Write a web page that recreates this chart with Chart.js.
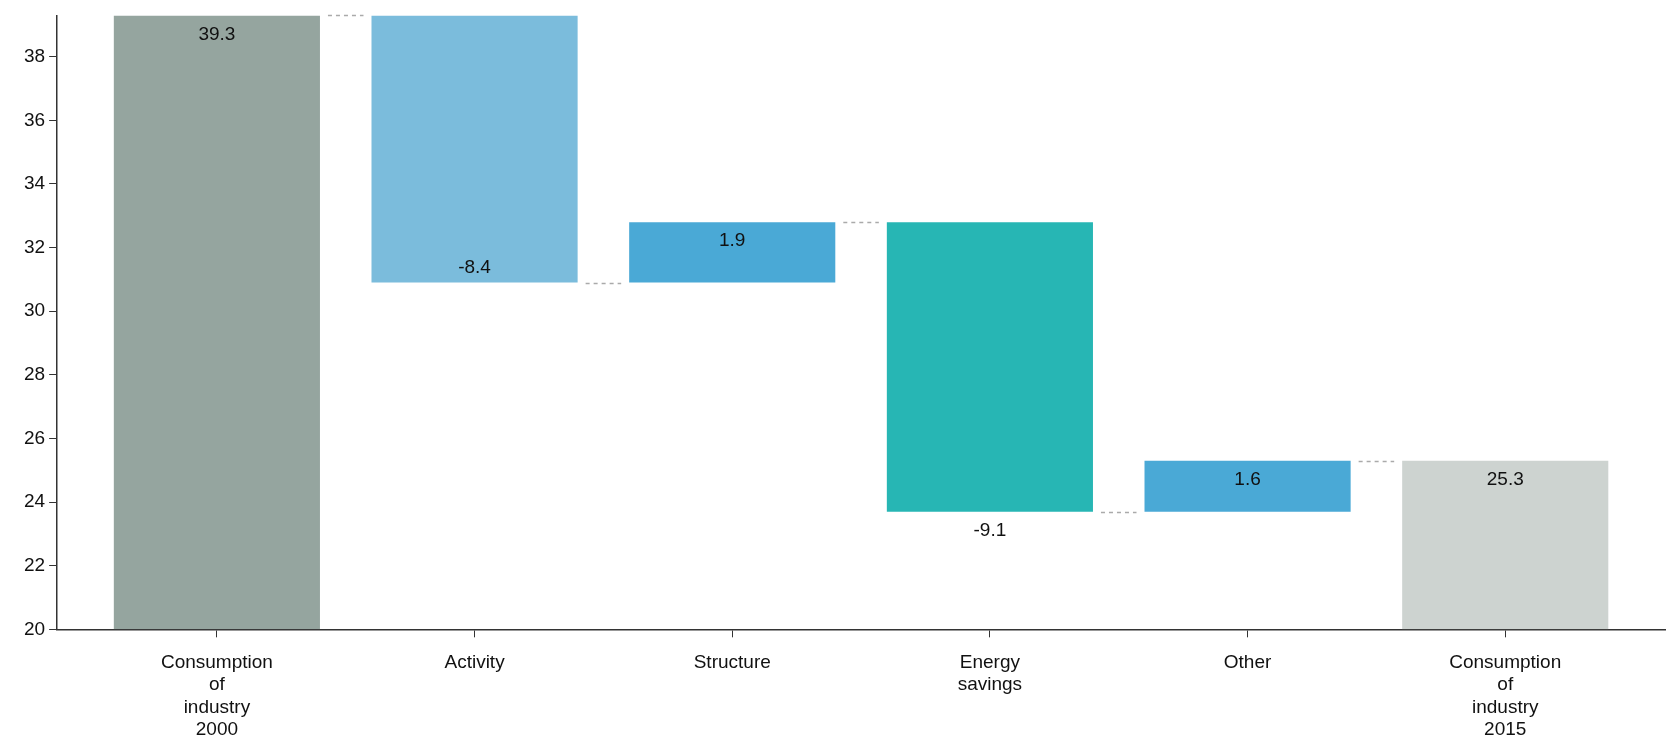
<!DOCTYPE html>
<html>
<head>
<meta charset="utf-8">
<script src="https://cdn.jsdelivr.net/npm/chart.js@4"></script>
<style>
  html, body { margin: 0; padding: 0; background: #fff; }
  #wrap { width: 1669px; height: 741px; }
</style>
</head>
<body>
<div id="wrap"><canvas id="chart"></canvas></div>
<script>
const categories = [
  ["Consumption", "of", "industry", "2000"],
  ["Activity"],
  ["Structure"],
  ["Energy", "savings"],
  ["Other"],
  ["Consumption", "of", "industry", "2015"]
];
const changes = [39.3, -8.4, 1.9, -9.1, 1.6, 25.3];
const isTotal = [true, false, false, false, false, true];
const barColors = ["#95a59f", "#7bbcdc", "#4aa9d6", "#27b6b4", "#4aa9d6", "#cdd3d0"];
// where the value label sits: top inside, bottom inside, below bar
const labelPos = ["top", "bottomIn", "top", "below", "top", "top"];
const axisMin = 20;

// build floating bars
let running = 0;
const ranges = changes.map((v, i) => {
  if (isTotal[i]) { running = v; return { x: i, y: [axisMin, v] }; }
  const start = running;
  running = +(running + v).toFixed(2);
  return { x: i, y: [Math.min(start, running), Math.max(start, running)] };
});
// level carried to the next bar
running = 0;
const levels = changes.map((v, i) => {
  running = isTotal[i] ? v : +(running + v).toFixed(2);
  return running;
});

const extras = {
  id: "extras",
  afterDatasetsDraw(chart) {
    const { ctx } = chart;
    const meta = chart.getDatasetMeta(0);
    const y = chart.scales.y;
    ctx.save();
    // connectors
    ctx.strokeStyle = "#aaaaaa";
    ctx.lineWidth = 1.5;
    ctx.setLineDash([4, 4]);
    for (let i = 0; i < meta.data.length - 1; i++) {
      const a = meta.data[i], b = meta.data[i + 1];
      const py = Math.round(y.getPixelForValue(levels[i])) + 0.5;
      ctx.beginPath();
      ctx.moveTo(a.x + a.width / 2 + 8, py);
      ctx.lineTo(b.x - b.width / 2 - 8, py);
      ctx.stroke();
    }
    ctx.setLineDash([]);
    // value labels
    ctx.fillStyle = "#111";
    ctx.font = "19px 'Liberation Sans', Arial, sans-serif";
    ctx.textAlign = "center";
    ctx.textBaseline = "middle";
    meta.data.forEach((bar, i) => {
      const top = Math.min(bar.y, bar.base), bottom = Math.max(bar.y, bar.base);
      let ty = top + 19;
      if (labelPos[i] === "bottomIn") ty = bottom - 15;
      if (labelPos[i] === "below") ty = bottom + 19;
      ctx.fillText(changes[i].toFixed(1), bar.x, ty);
    });
    ctx.restore();
  }
};

new Chart(document.getElementById("chart"), {
  type: "bar",
  data: {
    datasets: [{
      data: ranges,
      backgroundColor: barColors,
      borderWidth: 0,
      categoryPercentage: 1,
      barPercentage: 0.8
    }]
  },
  options: {
    responsive: true,
    maintainAspectRatio: false,
    animation: false,
    layout: { padding: { left: 20, right: 4, top: 7, bottom: -14 } },
    plugins: { legend: { display: false }, tooltip: { enabled: false } },
    scales: {
      x: {
        type: "linear",
        min: -0.62,
        max: 5.62,
        offset: false,
        afterBuildTicks(axis) {
          axis.ticks = categories.map((c, i) => ({ value: i }));
        },
        grid: { drawOnChartArea: false, offset: false, color: "#333", tickLength: 8 },
        border: { color: "#333", width: 1.5 },
        ticks: {
          color: "#111",
          font: { size: 19, family: "'Liberation Sans', Arial, sans-serif", lineHeight: 1.18 },
          maxRotation: 0, autoSkip: false, padding: 14,
          callback: (v) => categories[v]
        }
      },
      y: {
        min: axisMin,
        max: 39.3,
        afterBuildTicks(axis) { axis.ticks = axis.ticks.filter(t => t.value % 2 === 0); },
        grid: { drawOnChartArea: false, color: "#333", tickLength: 8 },
        border: { color: "#333", width: 1.5 },
        ticks: { stepSize: 2, color: "#111", font: { size: 19, family: "'Liberation Sans', Arial, sans-serif" }, padding: 4 }
      }
    }
  },
  plugins: [extras]
});
</script>
</body>
</html>
